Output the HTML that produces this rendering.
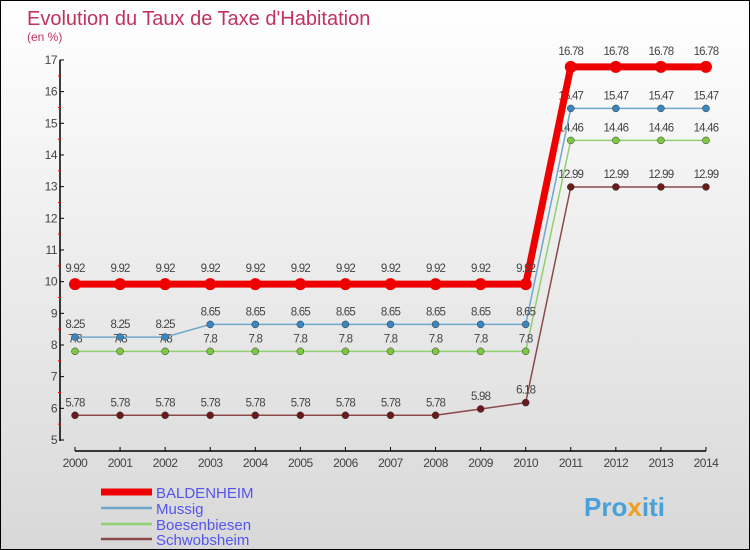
<!DOCTYPE html>
<html><head><meta charset="utf-8"><style>
body{margin:0}
#c{width:748px;height:548px;border:1px solid #000;background:linear-gradient(#fff,#d8d8d8);position:relative;overflow:hidden;font-family:"Liberation Sans",sans-serif}
</style></head><body>
<div id="c">
<svg width="748" height="548" id="s" font-family="Liberation Sans, sans-serif">
<text x="26" y="24" font-size="20" fill="#c0335f">Evolution du Taux de Taxe d'Habitation</text>
<text x="26" y="40" font-size="12" fill="#c0335f">(en %)</text>
<g id="g"></g>
<text x="583" y="515" font-size="26" font-weight="bold" fill="#4aa0d8">Pro<tspan fill="#f0a020">x</tspan>iti</text>
</svg>
</div>
<script>
const years=[2000,2001,2002,2003,2004,2005,2006,2007,2008,2009,2010,2011,2012,2013,2014];
const yTicks=[5,6,7,8,9,10,11,12,13,14,15,16,17];
const seriesNames=["BALDENHEIM","Mussig","Boesenbiesen","Schwobsheim"];
const baldenheim=[9.92,9.92,9.92,9.92,9.92,9.92,9.92,9.92,9.92,9.92,9.92,16.78,16.78,16.78,16.78];
const mussig=[8.25,8.25,8.25,8.65,8.65,8.65,8.65,8.65,8.65,8.65,8.65,15.47,15.47,15.47,15.47];
const boesenbiesen=[7.8,7.8,7.8,7.8,7.8,7.8,7.8,7.8,7.8,7.8,7.8,14.46,14.46,14.46,14.46];
const schwobsheim=[5.78,5.78,5.78,5.78,5.78,5.78,5.78,5.78,5.78,5.98,6.18,12.99,12.99,12.99,12.99];
const X=i=>74+i*45.07, Y=v=>439-(v-5)*31.67;
const g=document.getElementById('g'),NS="http://www.w3.org/2000/svg";
function mk(t,a,p){const e=document.createElementNS(NS,t);for(const k in a)e.setAttribute(k,a[k]);(p||g).appendChild(e);return e;}
let e;
e=mk('line',{x1:59,y1:59,x2:59,y2:440,stroke:'#000','stroke-width':1.5});


e=mk('line',{x1:X(0),y1:450,x2:X(14),y2:450,stroke:'#000','stroke-width':1.5});


yTicks.forEach(v=>{
 mk('line',{x1:59,y1:Y(v),x2:63,y2:Y(v),stroke:'#000'});
 if(v<17)mk('line',{x1:57,y1:Y(v+0.5),x2:60,y2:Y(v+0.5),stroke:'#f00'});
 e=mk('text',{x:56,y:Y(v)+4,'font-size':12,fill:'#444','text-anchor':'end','letter-spacing':'-0.5'});e.textContent=v;
 
 
});
years.forEach((y,i)=>{
 mk('line',{x1:X(i),y1:446,x2:X(i),y2:450,stroke:'#000'});
 e=mk('text',{x:X(i),y:466,'font-size':12,fill:'#444','text-anchor':'middle','letter-spacing':'-0.5'});e.textContent=y;
 
 
});
const ser=[[baldenheim,'#e00','#e00',7,6],[mussig,'#6fa8cc','#3a86c0',1.5,3.5],[boesenbiesen,'#90d070','#7cc840',1.5,3.5],[schwobsheim,'#8a4a4a','#6a1a1a',1.5,3.5]];
[3,2,1,0].forEach(k=>{
 const [d,c,pc,w,r]=ser[k];
 e=mk('polyline',{points:d.map((v,i)=>X(i)+','+Y(v)).join(' '),fill:'none',stroke:c,'stroke-width':w});
 
 
 d.forEach((v,i)=>{
  e=mk('circle',{cx:X(i),cy:Y(v),r:r,fill:pc,stroke:k?'#333':'none','stroke-width':0.5});
  
  
  e=mk('text',{x:X(i),y:Y(v)-(k?9:12),'font-size':11.5,fill:'#444','text-anchor':'middle','letter-spacing':'-0.8'});e.textContent=String(v);
  
  
 });
});
const ly=[491,507,523,538];
ser.forEach((s,k)=>{
 e=mk('line',{x1:100,y1:ly[k],x2:151,y2:ly[k],stroke:s[1],'stroke-width':k?2.5:7});
 
 
 e=mk('text',{x:155,y:ly[k]+6,'font-size':15,fill:'#5555ee'});e.textContent=seriesNames[k];
 
 
});
</script>
</body></html>
